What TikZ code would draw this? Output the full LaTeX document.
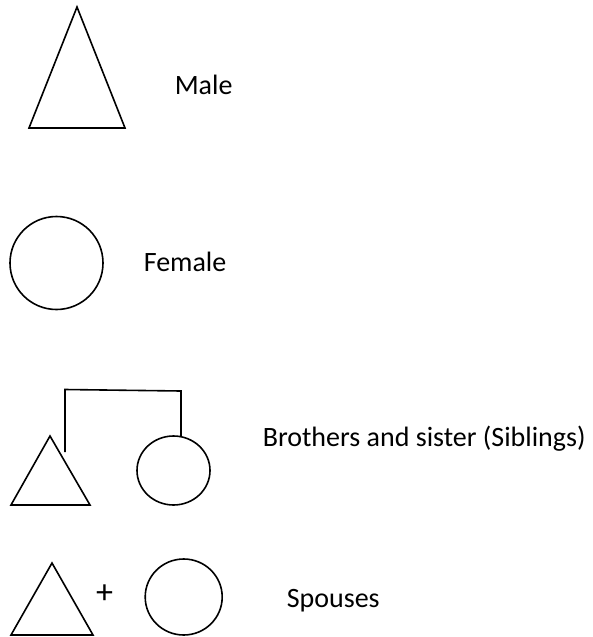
\documentclass[tikz,border=0pt]{standalone}
\usepackage{fontspec}
\setmainfont{Carlito}
\usetikzlibrary{shapes.geometric}
\begin{document}
\begin{tikzpicture}[x=1pt,y=-1pt,line width=1.6pt,
  lbl/.style={anchor=base west,inner sep=0pt,font=\fontsize{28}{32}\selectfont},
  fem/.style={draw,ellipse,inner sep=0pt,line width=1.6pt}]
\useasboundingbox (0,0) rectangle (593,637);
% Male
\draw[line join=miter] (77,7) -- (125,128) -- (29,128) -- cycle;
\node[lbl] (male) at (174,94) {Male};
% Female
\node[fem,minimum width=93pt,minimum height=93pt] (f1) at (56.5,263) {};
\node[lbl] (female) at (143,271) {Female};
% Siblings
\draw (50,436) -- (90,505) -- (11,505) -- cycle;
\coordinate (bt) at (65,452);
\node[fem,minimum width=73pt,minimum height=69pt] (f2) at (173.5,470.5) {};
\draw[line join=miter] (bt) -- (65,389.5) -- (181,391) -- (181,436);
\node[lbl] (sib) at (262,446) {Brothers and sister (Siblings)};
% Spouses
\draw (52,563) -- (93,635) -- (11,635) -- cycle;
\node[inner sep=0pt,font=\fontsize{34}{38}\selectfont] (plus) at (104.5,594) {+};
\node[fem,minimum width=77pt,minimum height=76pt] (f3) at (183.7,597) {};
\node[lbl] (sp) at (286,607) {Spouses};
\end{tikzpicture}
\end{document}
